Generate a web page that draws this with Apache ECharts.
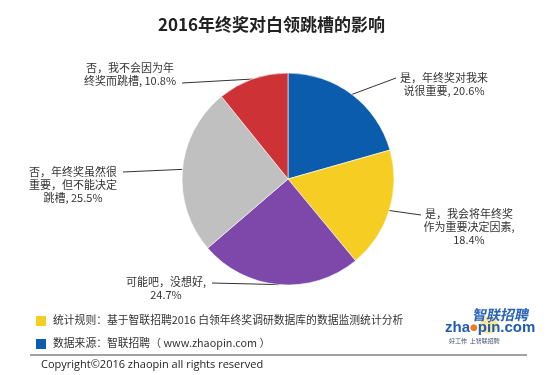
<!DOCTYPE html>
<html>
<head>
<meta charset="utf-8">
<script src="https://cdn.jsdelivr.net/npm/echarts@6/dist/echarts.min.js"></script>
<style>
  html, body { margin: 0; padding: 0; background: #ffffff; }
  #chart { width: 550px; height: 375px; }
</style>
</head>
<body>
<div id="chart"></div>
<script>
// ---- data ----
const categories = [
  '是，年终奖对我来\n说很重要',
  '是，我会将年终奖\n作为重要决定因素',
  '可能吧，没想好',
  '否，年终奖虽然很\n重要，但不能决定\n跳槽',
  '否，我不会因为年\n终奖而跳槽'
];
const labelSeparators = [', ', ',\n', ',\n', ', ', ', '];
const values = [20.6, 18.4, 24.7, 25.5, 10.8];
const colors = ['#0b5cad', '#f6cd22', '#7e47aa', '#c0c0c0', '#cc3236'];
const titleText = '2016年终奖对白领跳槽的影响';
const noteRule = '统计规则：基于智联招聘2016 白领年终奖调研数据库的数据监测统计分析';
const noteSource = '数据来源：智联招聘（ www.zhaopin.com ）';
const copyrightText = 'Copyright©2016 zhaopin all rights reserved';

// ---- label placement (styling) ----
const labelPlace = [
  { tx: 444, ty: 71, ex: 396, ey: 78 },
  { tx: 469, ty: 207, ex: 421, ey: 215 },
  { tx: 166, ty: 275, ex: 212, ey: 283 },
  { tx: 73,  ty: 165, ex: 123, ey: 172 },
  { tx: 130, ty: 61,  ex: 182, ey: 83 }
];

const FONT = '"Noto Sans CJK SC", "Noto Sans", sans-serif';
const chart = echarts.init(document.getElementById('chart'), null, { renderer: 'canvas' });

const pieData = categories.map((n, i) => ({
  name: n,
  value: values[i],
  itemStyle: { color: colors[i] }
}));

chart.setOption({
  backgroundColor: '#ffffff',
  animation: false,
  title: {
    text: titleText,
    left: 153,
    top: 11,
    textStyle: { fontFamily: FONT, fontSize: 17, fontWeight: 'bold', color: '#222' }
  },
  series: [{
    type: 'pie',
    center: [288, 179],
    radius: 106,
    startAngle: 90,
    clockwise: true,
    avoidLabelOverlap: false,
    data: pieData,
    itemStyle: { borderColor: '#ffffff', borderWidth: 0.6 },
    label: {
      show: true,
      position: 'outside',
      fontFamily: FONT,
      fontSize: 11,
      lineHeight: 13,
      color: '#333',
      align: 'center',
      formatter: p => p.name + labelSeparators[p.dataIndex] + values[p.dataIndex].toFixed(1) + '%'
    },
    labelLine: { show: true, length: 10, length2: 10, lineStyle: { color: '#333', width: 1 } },
    labelLayout: function (p) {
      const a = labelPlace[p.dataIndex];
      const res = { x: a.tx, y: a.ty, align: 'center', verticalAlign: 'top' };
      if (p.labelLinePoints && p.labelLinePoints.length) {
        const s = p.labelLinePoints[0];
        res.labelLinePoints = [[s[0], s[1]], [a.ex, a.ey], [a.ex, a.ey]];
      }
      return res;
    },
    emphasis: { disabled: true }
  }],
  graphic: [
    { type: 'rect', shape: { x: 36, y: 316, width: 10, height: 10 }, style: { fill: colors[1] } },
    { type: 'text', x: 53, y: 320, style: { text: noteRule, font: '10.8px ' + FONT, fill: '#333', textVerticalAlign: 'middle' } },
    { type: 'rect', shape: { x: 36, y: 339, width: 10, height: 10 }, style: { fill: colors[0] } },
    { type: 'text', x: 53, y: 343, style: { text: noteSource, font: '10.8px ' + FONT, fill: '#333', textVerticalAlign: 'middle' } },
    { type: 'line', shape: { x1: 30, y1: 355, x2: 527, y2: 355 }, style: { stroke: '#444', lineWidth: 1 } },
    { type: 'text', x: 41, y: 365, style: { text: copyrightText, font: '11px "Open Sans", sans-serif', fill: '#222', textVerticalAlign: 'middle' } },
    // logo
    { type: 'circle', shape: { cx: 489, cy: 325, r: 9 }, style: { fill: '#f7d23a', opacity: 0.5 } },
    { type: 'text', x: 473, y: 315, skewX: -0.2, style: { text: '智联招聘', font: 'bold 14px ' + FONT, fill: '#2a63b8', textVerticalAlign: 'middle' } },
    { type: 'text', x: 445, y: 328, style: {
        text: '{a|zha}{o|●}{a|pin.com}',
        rich: {
          a: { fontFamily: 'Liberation Sans, Arial, sans-serif', fontWeight: 'bold', fontSize: 15, fill: '#1f5db3' },
          o: { fontFamily: 'DejaVu Sans, sans-serif', fontSize: 9, fill: '#ef7d22' }
        },
        textVerticalAlign: 'middle'
      } },
    { type: 'text', x: 449, y: 341, style: { text: '好工作  上智联招聘', font: '6px ' + FONT, fill: '#3a4a6a', textVerticalAlign: 'middle' } }
  ]
});
</script>
</body>
</html>
